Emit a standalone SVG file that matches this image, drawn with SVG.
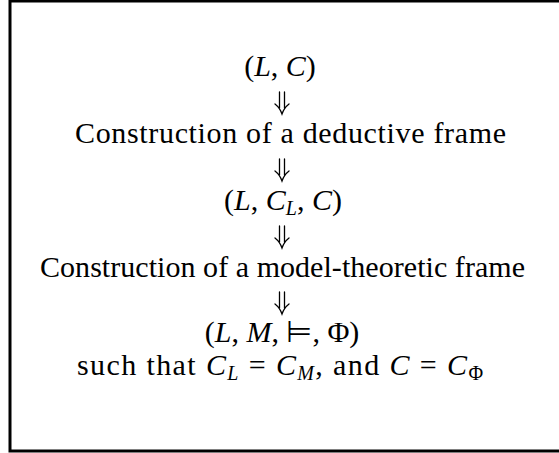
<svg xmlns="http://www.w3.org/2000/svg" width="559" height="453" viewBox="0 0 559 453">
<style>
text{font-family:"Liberation Serif","Times New Roman",serif;font-size:30px;fill:#000;text-anchor:middle}
.i{font-style:italic}
.s{font-size:20px}
.arr{fill:none;stroke:#000;stroke-width:1.3;stroke-linecap:round}
</style>
<rect x="10" y="1" width="560" height="450" fill="#fff" stroke="#000" stroke-width="3"/>
<g id="n1"><text x="280" y="76">(<tspan class="i">L</tspan>, <tspan class="i">C</tspan>)</text></g>
<g id="n2"><text x="290.5" y="143" textLength="431" lengthAdjust="spacing">Construction of a deductive frame</text></g>
<g id="n3"><text x="283" y="210">(<tspan class="i">L</tspan>, <tspan class="i">C</tspan><tspan class="i s" dy="5">L</tspan><tspan dy="-5">, </tspan><tspan class="i">C</tspan>)</text></g>
<g id="n4"><text x="282.5" y="277" textLength="485" lengthAdjust="spacing">Construction of a model-theoretic frame</text></g>
<g id="n5"><text x="282" y="342">(<tspan class="i">L</tspan>, <tspan class="i">M</tspan>, ⊨, Φ)</text></g>
<g id="n6"><text x="280" y="375" textLength="406" lengthAdjust="spacing">such that <tspan class="i">C</tspan><tspan class="i s" dy="5">L</tspan><tspan dy="-5"> = </tspan><tspan class="i">C</tspan><tspan class="i s" dy="5">M</tspan><tspan dy="-5">, and </tspan><tspan class="i">C</tspan> = <tspan class="i">C</tspan><tspan class="s" dy="5">Φ</tspan></text></g>
<g id="connectors" class="arr">
<path d="M279.5 92V108M284.5 92V108M275 104Q280 108 282 114Q284 108 289 104"/>
<path d="M279.5 159V175M284.5 159V175M275 171Q280 175 282 181Q284 175 289 171"/>
<path d="M279.5 226V242M284.5 226V242M275 238Q280 242 282 248Q284 242 289 238"/>
<path d="M279.5 292V308M284.5 292V308M275 304Q280 308 282 314Q284 308 289 304"/>
</g>
</svg>
